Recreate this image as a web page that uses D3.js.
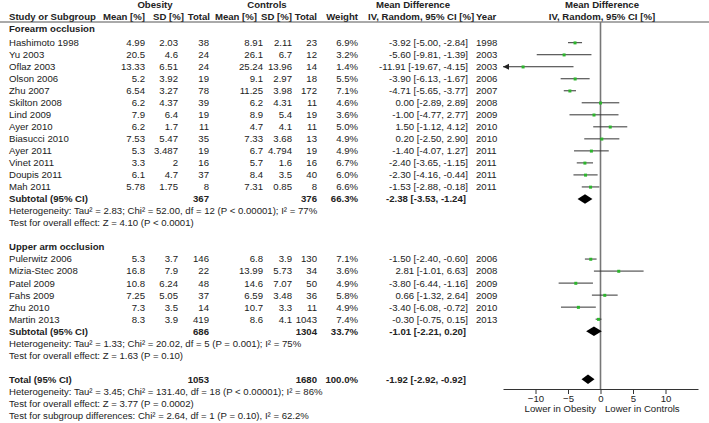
<!DOCTYPE html>
<html><head><meta charset="utf-8">
<script src="https://cdn.jsdelivr.net/npm/d3@7"></script>
<style>body{margin:0;background:#fff}svg{display:block}text{font-family:"Liberation Sans",Arial,sans-serif;font-size:9.6px;fill:#222}</style>
</head><body><svg id="c" width="709" height="423"></svg>
<script>
const studies=["Hashimoto 1998","Yu 2003","Oflaz 2003","Olson 2006","Zhu 2007","Skilton 2008","Lind 2009","Ayer 2010","Biasucci 2010","Ayer 2011","Vinet 2011","Doupis 2011","Mah 2011","Pulerwitz 2006","Mizia-Stec 2008","Patel 2009","Fahs 2009","Zhu 2010","Martin 2013"];
const groupOf=[0,0,0,0,0,0,0,0,0,0,0,0,0,1,1,1,1,1,1];
const obMean=["4.99","20.5","13.33","5.2","6.54","6.2","7.9","6.2","7.53","5.3","3.3","6.1","5.78","5.3","16.8","10.8","7.25","7.3","8.3"];
const obSD=["2.03","4.6","6.51","3.92","3.27","4.37","6.4","1.7","5.47","3.487","2","4.7","1.75","3.7","7.9","6.24","5.05","3.5","3.9"];
const obN=[38,24,24,19,78,39,19,11,35,19,16,37,8,146,22,48,37,14,419];
const ctMean=["8.91","26.1","25.24","9.1","11.25","6.2","8.9","4.7","7.33","6.7","5.7","8.4","7.31","6.8","13.99","14.6","6.59","10.7","8.6"];
const ctSD=["2.11","6.7","13.96","2.97","3.98","4.31","5.4","4.1","3.68","4.794","1.6","3.5","0.85","3.9","5.73","7.07","3.48","3.3","4.1"];
const ctN=[23,12,14,18,172,11,19,11,13,19,16,40,8,130,34,50,36,11,1043];
const weight=["6.9%","3.2%","1.4%","5.5%","7.1%","4.6%","3.6%","5.0%","4.9%","4.9%","6.7%","6.0%","6.6%","7.1%","3.6%","4.9%","5.8%","4.9%","7.4%"];
const md=[-3.92,-5.60,-11.91,-3.90,-4.71,0.00,-1.00,1.50,0.20,-1.40,-2.40,-2.30,-1.53,-1.50,2.81,-3.80,0.66,-3.40,-0.30];
const lo=[-5.00,-9.81,-19.67,-6.13,-5.65,-2.89,-4.77,-1.12,-2.50,-4.07,-3.65,-4.16,-2.88,-2.40,-1.01,-6.44,-1.32,-6.08,-0.75];
const hi=[-2.84,-1.39,-4.15,-1.67,-3.77,2.89,2.77,4.12,2.90,1.27,-1.15,-0.44,-0.18,-0.60,6.63,-1.16,2.64,-0.72,0.15];
const year=[1998,2003,2003,2006,2007,2008,2009,2010,2010,2011,2011,2011,2011,2006,2008,2009,2009,2010,2013];
const groupNames=["Forearm occlusion","Upper arm occlusion"];
const subObN=[367,686], subCtN=[376,1304], subW=["66.3%","33.7%"];
const subMd=[-2.38,-1.01], subLo=[-3.53,-2.21], subHi=[-1.24,0.20];
const hetText=["Heterogeneity: Tau² = 2.83; Chi² = 52.00, df = 12 (P < 0.00001); I² = 77%","Heterogeneity: Tau² = 1.33; Chi² = 20.02, df = 5 (P = 0.001); I² = 75%"];
const effText=["Test for overall effect: Z = 4.10 (P < 0.0001)","Test for overall effect: Z = 1.63 (P = 0.10)"];
const totObN=1053, totCtN=1680, totW="100.0%", totMd=-1.92, totLo=-2.92, totHi=-0.92;
const totalNotes=["Heterogeneity: Tau² = 3.45; Chi² = 131.40, df = 18 (P < 0.00001); I² = 86%","Test for overall effect: Z = 3.77 (P = 0.0002)","Test for subgroup differences: Chi² = 2.64, df = 1 (P = 0.10), I² = 62.2%"];
const ticks=[-10,-5,0,5,10];
const axisLabels=["Lower in Obesity","Lower in Controls"];

const svg=d3.select("#c");
const x=d3.scaleLinear().domain([-15,15]).range([503,698]);
const row=d3.scaleLinear().domain([0,1]).range([42.7,54.72]);
const f=v=>v.toFixed(2);
const ci=(m,l,h)=>`${f(m)} [${f(l)}, ${f(h)}]`;
function t(xp,yp,s,anchor,bold){
  return svg.append("text").attr("x",xp).attr("y",yp+3.4).attr("text-anchor",anchor||"start")
   .style("font-weight",bold?"bold":null).text(s);
}
// headers
t(155,5,"Obesity","middle",true);
t(267,5,"Controls","middle",true);
t(413,5,"Mean Difference","middle",true);
t(602,5,"Mean Difference","middle",true);
t(9,17,"Study or Subgroup","start",true);
t(145,17,"Mean [%]","end",true);
t(184,17,"SD [%]","end",true);
t(210,17,"Total","end",true);
t(257,17,"Mean [%]","end",true);
t(292,17,"SD [%]","end",true);
t(317,17,"Total","end",true);
t(358,17,"Weight","end",true);
t(368,17,"IV, Random, 95% CI [%]","start",true);
t(476,17,"Year","start",true);
t(602,17,"IV, Random, 95% CI [%]","middle",true);
svg.append("line").attr("x1",0).attr("x2",709).attr("y1",22).attr("y2",22).attr("stroke","#555").attr("stroke-width",1);

// row indices
const studyRow=[];let r=0;const subRow=[],hetRow=[],effRow=[],grpRow=[];
for(let g=0;g<2;g++){
  if(g===0){grpRow.push(-1.14);}else{grpRow.push(r);r+=1;}
  studies.forEach((s,i)=>{if(groupOf[i]===g){studyRow[i]=r;r++;}});
  subRow.push(r);hetRow.push(r+1);effRow.push(r+2);r+=4;
}
const totRow=r;

// zero line
svg.append("line").attr("x1",x(0)).attr("x2",x(0)).attr("y1",22).attr("y2",389).attr("stroke","#777").attr("stroke-width",1.6);

for(let g=0;g<2;g++){
  t(9,row(grpRow[g]),groupNames[g],"start",true);
  const y=row(subRow[g]);
  t(9,y,"Subtotal (95% CI)","start",true);
  t(209,y,subObN[g],"end",true);t(317,y,subCtN[g],"end",true);t(358,y,subW[g],"end",true);
  t(466,y,ci(subMd[g],subLo[g],subHi[g]),"end",true);
  t(9,row(hetRow[g]),hetText[g]);t(9,row(effRow[g]),effText[g]);
  diamond(subMd[g],subLo[g],subHi[g],y);
}
studies.forEach((s,i)=>{
  const y=row(studyRow[i]);
  t(9,y,s);t(145,y,obMean[i],"end");t(178,y,obSD[i],"end");t(209,y,obN[i],"end");
  t(263,y,ctMean[i],"end");t(292,y,ctSD[i],"end");t(317,y,ctN[i],"end");t(358,y,weight[i],"end");
  t(468,y,ci(md[i],lo[i],hi[i]),"end");t(476,y,year[i]);
  const l=Math.max(lo[i],-15),h=Math.min(hi[i],15);
  svg.append("line").attr("x1",x(l)).attr("x2",x(h)).attr("y1",y).attr("y2",y).attr("stroke","#333").attr("stroke-width",1);
  if(lo[i]<-15){
    svg.append("path").attr("d",`M${x(-15)},${y} l6,-3 l0,6 z`).attr("fill","#222");
  }
  svg.append("rect").attr("x",x(md[i])-1.5).attr("y",y-1.3).attr("width",3).attr("height",3).attr("fill","#2db52d");
});
const ty=row(totRow);
t(9,ty,"Total (95% CI)","start",true);t(209,ty,totObN,"end",true);t(317,ty,totCtN,"end",true);t(358,ty,totW,"end",true);
t(466,ty,ci(totMd,totLo,totHi),"end",true);
totalNotes.forEach((s,k)=>t(9,row(totRow+1+k),s));
diamond(totMd,totLo,totHi,ty);

function diamond(m,l,h,y){
  svg.append("path").attr("d",`M${x(l)},${y} L${x(m)},${y-4.8} L${x(h)},${y} L${x(m)},${y+4.8} Z`).attr("fill","#000");
}
// axis
const ax=svg.append("g").attr("transform","translate(0,389)")
 .call(d3.axisBottom(x).tickValues(ticks).tickSize(5).tickSizeOuter(0).tickFormat(d3.format("d")));
ax.select(".domain").attr("stroke","#333");
ax.selectAll(".tick line").attr("stroke","#333");
ax.selectAll("text").attr("dy",null).attr("y",12.5).style("font-size","9.6px").style("font-family",'"Liberation Sans",Arial,sans-serif').attr("fill","#222");
t(596,409,axisLabels[0],"end");
t(605,409,axisLabels[1],"start");
</script></body></html>
